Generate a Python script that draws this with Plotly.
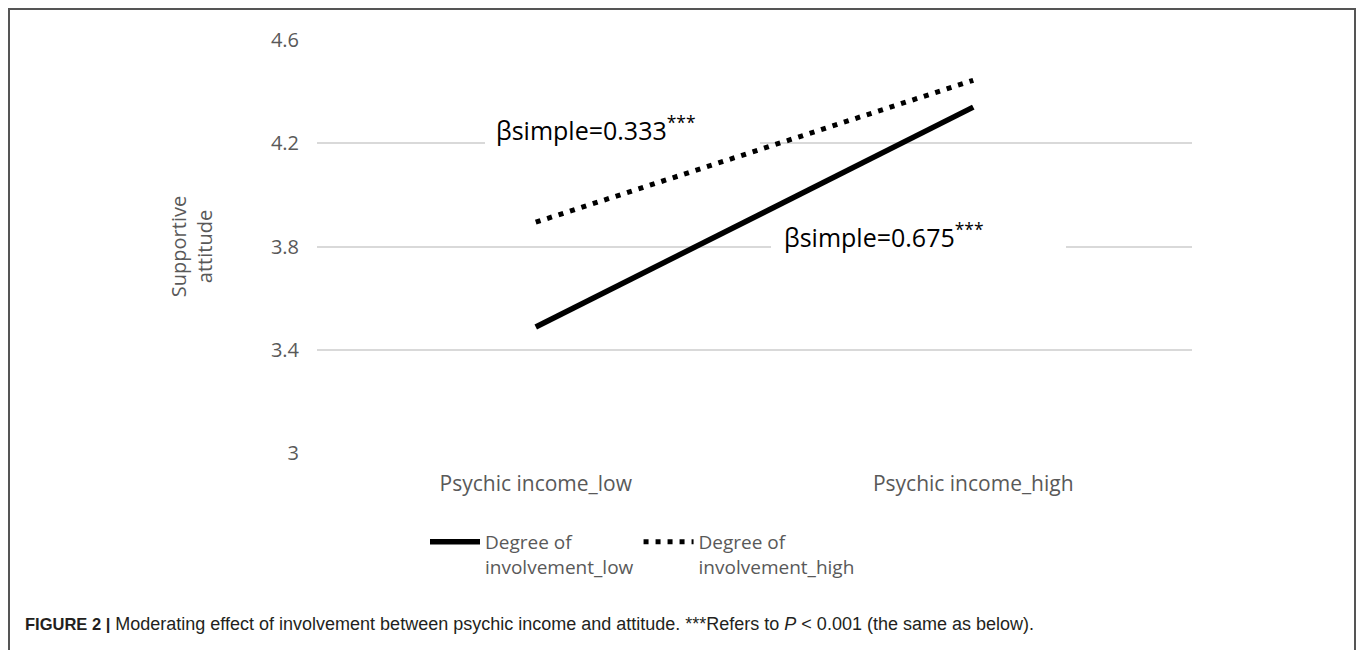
import plotly.graph_objects as go

categories = ["Psychic income_low", "Psychic income_high"]
involvement_low = [3.488, 4.34]
involvement_high = [3.894, 4.444]
series_names = ["Degree of<br>involvement_low", "Degree of<br>involvement_high"]
y_ticks = [3.0, 3.4, 3.8, 4.2, 4.6]
y_tick_labels = ["3", "3.4", "3.8", "4.2", "4.6"]
beta_labels = ["βsimple=0.333<sup>***</sup>", "βsimple=0.675<sup>***</sup>"]
caption = ("<span style='font-size:16.5px'><b>FIGURE 2 |</b></span> Moderating effect of involvement between psychic income and attitude. "
           "***Refers to <i>P</i> &lt; 0.001 (the same as below).")

W, H = 1357, 650
L, R, T, B = 317, 165, 40, 197
pw, ph = W - L - R, H - T - B
Y0, Y1 = 3.0, 4.6


def px_x(p):
    return (p - L) / pw


def px_y(p):
    return (H - B - p) / ph


def cat_x(p):
    # pixel -> category-axis coordinate (range -0.5..1.5)
    return -0.5 + 2 * (p - L) / pw


def val_y(p):
    return Y0 + (Y1 - Y0) * (H - B - p) / ph


FONT = "Open Sans"
GREY = "#595959"

fig = go.Figure()
fig.add_trace(go.Scatter(
    x=categories, y=involvement_low, mode="lines", name=series_names[0],
    line=dict(color="black", width=5.5)))
fig.add_trace(go.Scatter(
    x=categories, y=involvement_high, mode="lines", name=series_names[1],
    line=dict(color="black", width=5, dash="5px,7px")))

fig.update_layout(
    width=W, height=H,
    margin=dict(l=L, r=R, t=T, b=B, autoexpand=False),
    paper_bgcolor="white", plot_bgcolor="white",
    font=dict(family=FONT, size=20, color=GREY),
    showlegend=True,
    legend=dict(orientation="h", x=px_x(425), y=px_y(523), xanchor="left", yanchor="top",
                itemwidth=50, valign="top",
                font=dict(family=FONT, size=19, color=GREY), tracegroupgap=0),
    xaxis=dict(type="category", range=[-0.5, 1.5], showgrid=False, showline=False,
               zeroline=False, ticks="", ticklabelstandoff=16,
               tickfont=dict(family=FONT, size=21, color=GREY)),
    yaxis=dict(range=[Y0, Y1], tickvals=y_ticks, ticktext=y_tick_labels,
               showgrid=True, gridcolor="#d9d9d9", gridwidth=1.5, zeroline=False,
               showline=False, ticks="", ticklabelstandoff=17,
               tickfont=dict(family=FONT, size=20, color=GREY),
               title=dict(text="Supportive<br>attitude", standoff=52,
                          font=dict(family=FONT, size=20, color=GREY))),
)

# frame
fig.add_shape(type="rect", xref="paper", yref="paper",
              x0=px_x(9), x1=px_x(1355), y0=px_y(9), y1=px_y(700),
              line=dict(color="#555555", width=2), layer="above")

# white text boxes behind the beta labels (between gridlines and traces)
for (bx0, bx1, by0, by1) in [(485, 760, 112, 150), (771, 1066, 220, 258)]:
    fig.add_shape(type="rect", xref="x", yref="y",
                  x0=cat_x(bx0), x1=cat_x(bx1), y0=val_y(by1), y1=val_y(by0),
                  fillcolor="white", line=dict(width=0), layer="between")

fig.add_annotation(xref="paper", yref="paper", x=px_x(494), y=px_y(128),
                   xanchor="left", yanchor="middle", text=beta_labels[0], showarrow=False,
                   font=dict(family=FONT, size=25, color="black"))
fig.add_annotation(xref="paper", yref="paper", x=px_x(782), y=px_y(236),
                   xanchor="left", yanchor="middle", text=beta_labels[1], showarrow=False,
                   font=dict(family=FONT, size=25, color="black"))

# caption
fig.add_annotation(xref="paper", yref="paper", x=px_x(23), y=px_y(624),
                   xanchor="left", yanchor="middle", showarrow=False, align="left",
                   text=caption,
                   font=dict(family="Liberation Sans", size=18, color="#231f20"))

fig.write_html("out.html", config={"displayModeBar": False},
               post_script="document.body.style.margin='0';document.body.style.overflow='hidden';")
